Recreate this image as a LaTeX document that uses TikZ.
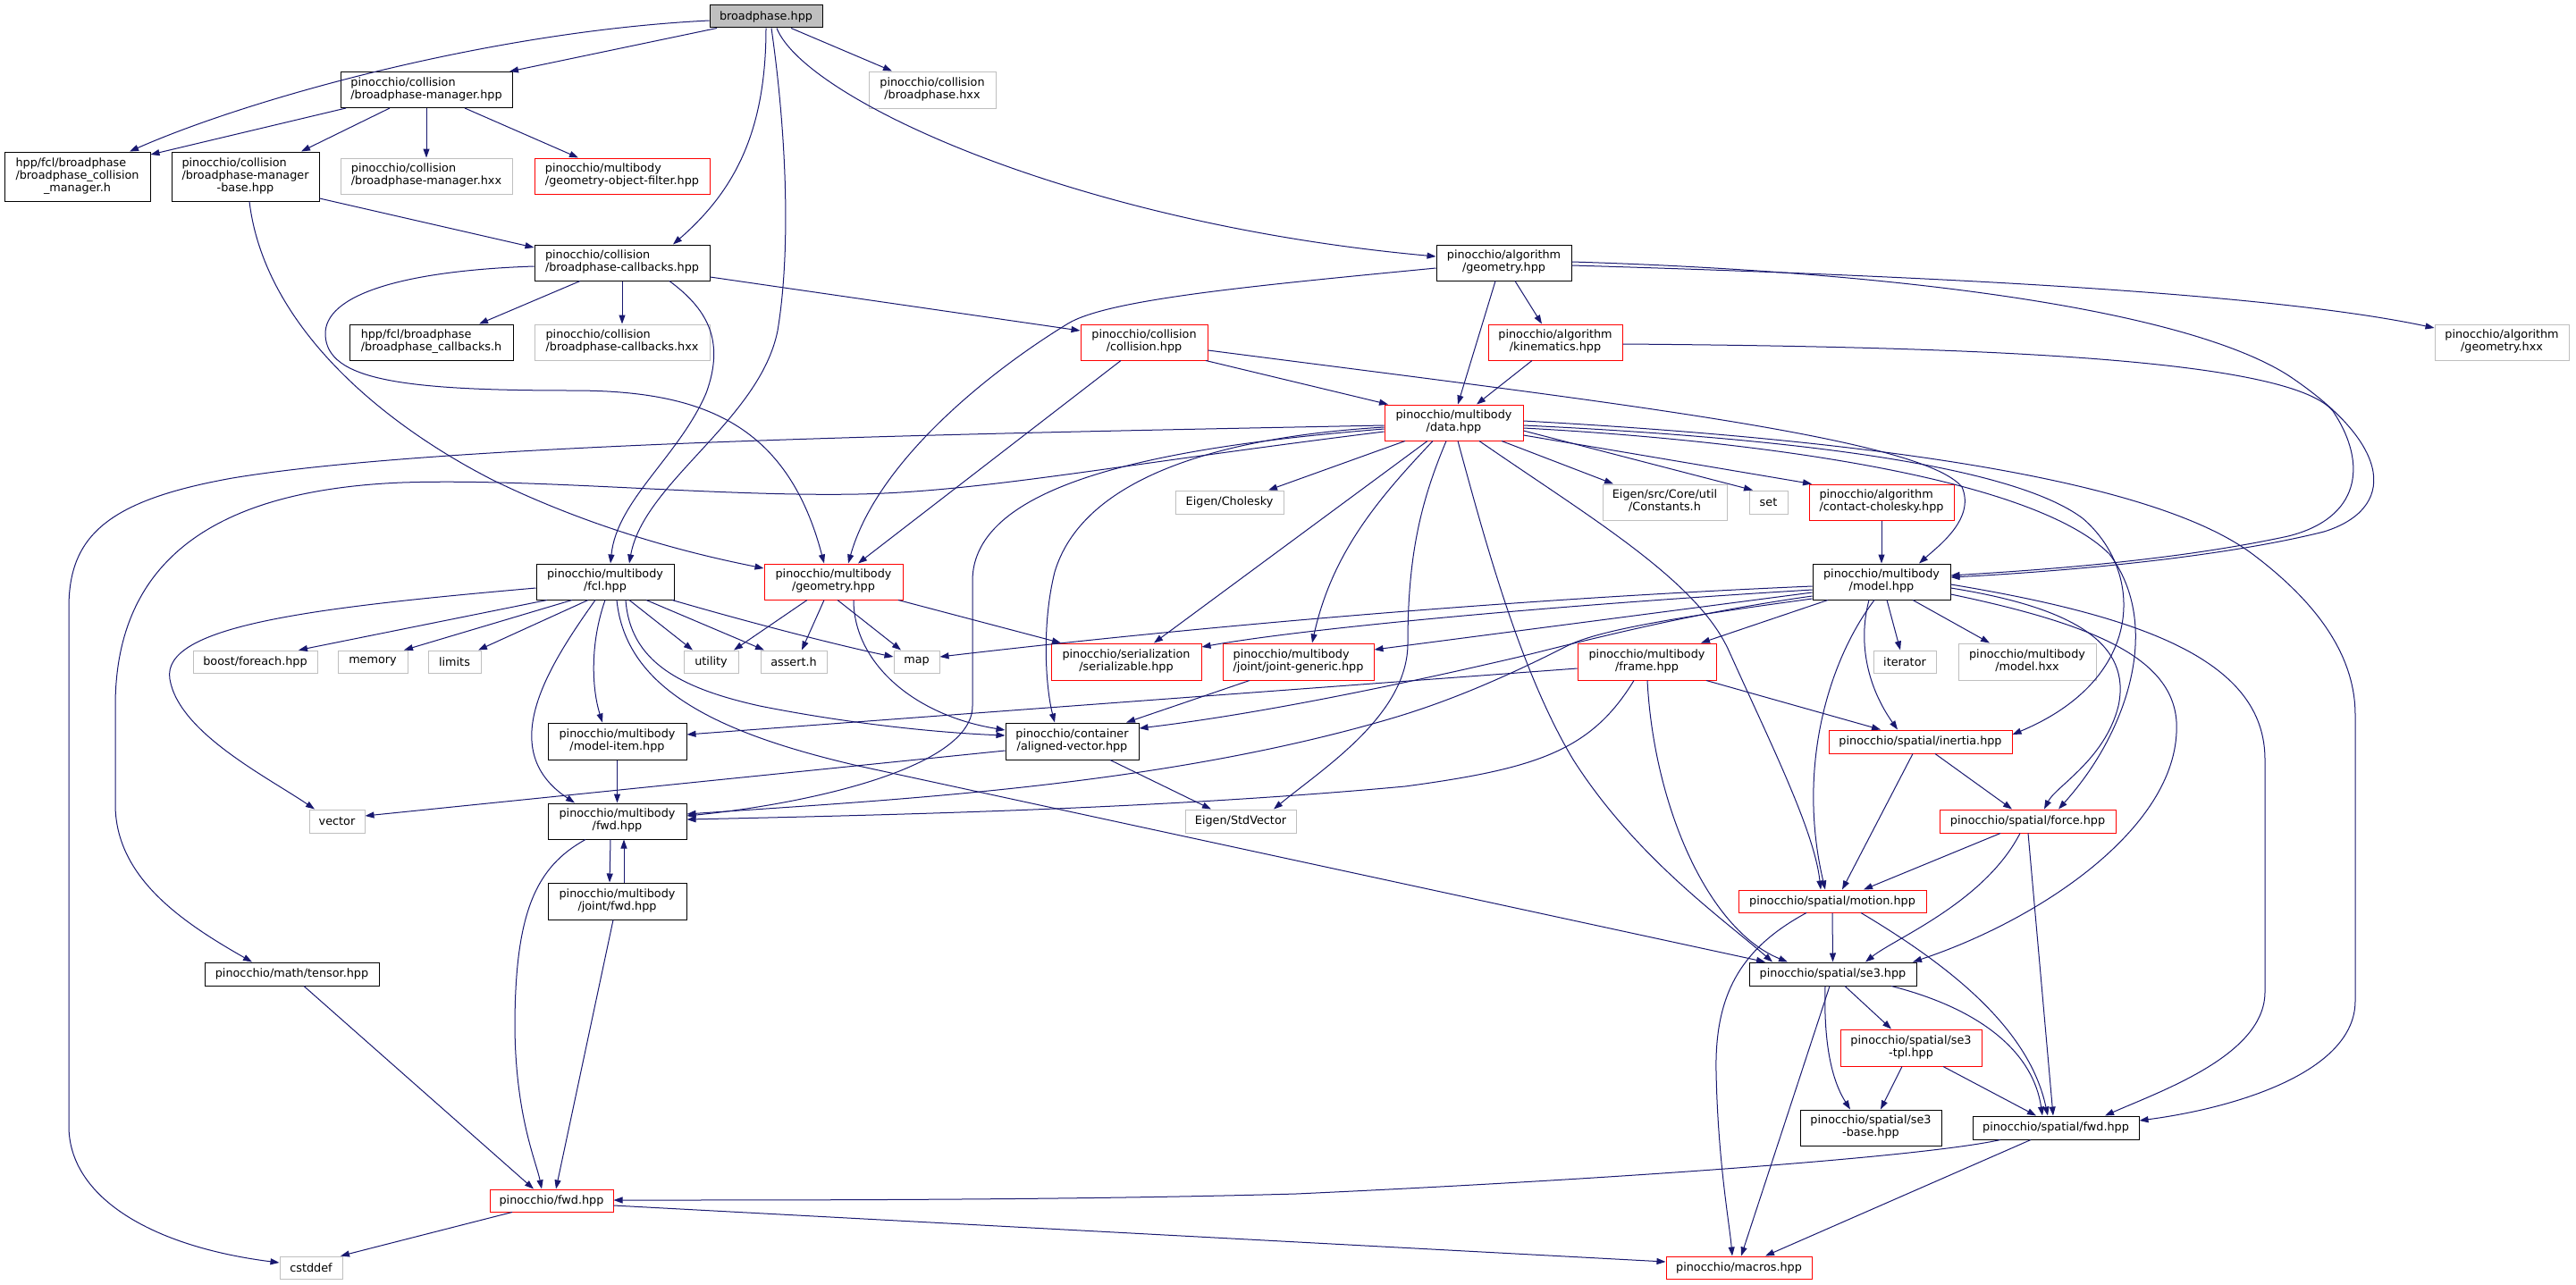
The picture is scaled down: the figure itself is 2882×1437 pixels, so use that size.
\documentclass[tikz,border=0pt]{standalone}
\usepackage{fontspec}
\setmainfont{DejaVu Sans}
\usetikzlibrary{arrows.meta}
\definecolor{edgec}{HTML}{191970}
\definecolor{grayc}{HTML}{BFBFBF}
\newcommand\nfont{\fontsize{12.8}{14}\selectfont}
\newcommand\lbb[2]{\begin{tabular}{@{}l@{}}#1\\\multicolumn{1}{@{}c@{}}{#2}\end{tabular}}
\newcommand\lbc[3]{\begin{tabular}{@{}l@{}}#1\\#2\\\multicolumn{1}{@{}c@{}}{#3}\end{tabular}}
\tikzset{
 nb/.style={draw=black, line width=1pt, inner sep=0pt, font=\nfont, text=black, fill=white},
 bk/.style={nb},
 gr/.style={nb, draw=grayc},
 rd/.style={nb, draw=red},
 rt/.style={nb, fill=grayc},
 sz/.style 2 args={minimum width=#1, minimum height=#2},
 cn/.style={draw=edgec, line width=1pt, -{Triangle[length=10pt,width=7pt]}},
}
\begin{document}
\begin{tikzpicture}[x=1pt,y=-1pt]
\fill[white] (0,0) rectangle (2882,1437);
\useasboundingbox (0,0) rectangle (2882,1437);
% nodes
\node[rt, sz={126pt}{25pt}] (root) at (857,18.5) {broadphase.hpp};
\node[bk, sz={192pt}{40pt}] (bpm) at (477,100.5) {\lbb{pinocchio/collision}{/broadphase-manager.hpp}};
\node[bk, sz={163pt}{55pt}] (bcm) at (86.5,197.5) {\lbc{hpp/fcl/broadphase}{/broadphase\_collision}{\_manager.h}};
\node[bk, sz={165pt}{55pt}] (bpmb) at (274.5,197.5) {\lbc{pinocchio/collision}{/broadphase-manager}{-base.hpp}};
\node[gr, sz={192pt}{40pt}] (bpmhxx) at (477,197) {\lbb{pinocchio/collision}{/broadphase-manager.hxx}};
\node[rd, sz={196pt}{40pt}] (gof) at (696,197) {\lbb{pinocchio/multibody}{/geometry-object-filter.hpp}};
\node[bk, sz={196pt}{40pt}] (bpcb) at (696,294) {\lbb{pinocchio/collision}{/broadphase-callbacks.hpp}};
\node[gr, sz={142pt}{41pt}] (bphxx) at (1043,100.5) {\lbb{pinocchio/collision}{/broadphase.hxx}};
\node[bk, sz={151pt}{40pt}] (ageo) at (1682.5,294) {\lbb{pinocchio/algorithm}{/geometry.hpp}};
\node[gr, sz={150pt}{40pt}] (ageohxx) at (2799,383) {\lbb{pinocchio/algorithm}{/geometry.hxx}};
\node[bk, sz={183pt}{40pt}] (bcbh) at (482.5,383) {\lbb{hpp/fcl/broadphase}{/broadphase\_callbacks.h}};
\node[gr, sz={196pt}{40pt}] (bpcbhxx) at (696,383) {\lbb{pinocchio/collision}{/broadphase-callbacks.hxx}};
\node[rd, sz={142pt}{40pt}] (coll) at (1280,383) {\lbb{pinocchio/collision}{/collision.hpp}};
\node[rd, sz={150pt}{40pt}] (kin) at (1740,383) {\lbb{pinocchio/algorithm}{/kinematics.hpp}};
\node[rd, sz={155pt}{40pt}] (data) at (1626.5,473) {\lbb{pinocchio/multibody}{/data.hpp}};
\node[gr, sz={121pt}{26pt}] (chol) at (1375.5,562) {Eigen/Cholesky};
\node[gr, sz={139pt}{40pt}] (const) at (1862.5,562) {\lbb{Eigen/src/Core/util}{/Constants.h}};
\node[gr, sz={43pt}{26pt}] (set) at (1978.5,562) {set};
\node[rd, sz={162pt}{40pt}] (cchol) at (2105,562) {\lbb{pinocchio/algorithm}{/contact-cholesky.hpp}};
\node[bk, sz={154pt}{40pt}] (model) at (2105,651) {\lbb{pinocchio/multibody}{/model.hpp}};
\node[bk, sz={154pt}{40pt}] (fcl) at (677,651) {\lbb{pinocchio/multibody}{/fcl.hpp}};
\node[rd, sz={155pt}{40pt}] (mgeo) at (932.5,651) {\lbb{pinocchio/multibody}{/geometry.hpp}};
\node[gr, sz={139pt}{25pt}] (boost) at (285.5,740.5) {boost/foreach.hpp};
\node[gr, sz={78pt}{25pt}] (memory) at (417,740.5) {memory};
\node[gr, sz={59pt}{25pt}] (limits) at (508.5,740.5) {limits};
\node[gr, sz={61pt}{25pt}] (utility) at (795.5,740.5) {utility};
\node[gr, sz={74pt}{25pt}] (assert) at (888,740.5) {assert.h};
\node[gr, sz={51pt}{25pt}] (map) at (1025.5,740.5) {map};
\node[rd, sz={168pt}{41pt}] (serial) at (1260,740.5) {\lbb{pinocchio/serialization}{/serializable.hpp}};
\node[rd, sz={169pt}{41pt}] (jg) at (1452.5,740.5) {\lbb{pinocchio/multibody}{/joint/joint-generic.hpp}};
\node[rd, sz={155pt}{41pt}] (frame) at (1842.5,740.5) {\lbb{pinocchio/multibody}{/frame.hpp}};
\node[gr, sz={70pt}{25pt}] (iter) at (2131,740.5) {iterator};
\node[gr, sz={154pt}{41pt}] (mhxx) at (2268,740.5) {\lbb{pinocchio/multibody}{/model.hxx}};
\node[bk, sz={155pt}{41pt}] (mitem) at (690.5,829.5) {\lbb{pinocchio/multibody}{/model-item.hpp}};
\node[bk, sz={149pt}{41pt}] (av) at (1199.5,829.5) {\lbb{pinocchio/container}{/aligned-vector.hpp}};
\node[rd, sz={205pt}{26pt}] (inertia) at (2148.5,830) {pinocchio/spatial/inertia.hpp};
\node[gr, sz={62pt}{26pt}] (vector) at (377,919) {vector};
\node[bk, sz={155pt}{40pt}] (mbfwd) at (690.5,919) {\lbb{pinocchio/multibody}{/fwd.hpp}};
\node[gr, sz={124pt}{26pt}] (stdvec) at (1388,919) {Eigen/StdVector};
\node[rd, sz={197pt}{26pt}] (force) at (2268.5,919) {pinocchio/spatial/force.hpp};
\node[bk, sz={155pt}{41pt}] (jfwd) at (690.5,1008.5) {\lbb{pinocchio/multibody}{/joint/fwd.hpp}};
\node[rd, sz={210pt}{25pt}] (motion) at (2050,1008.5) {pinocchio/spatial/motion.hpp};
\node[bk, sz={195pt}{26pt}] (tensor) at (326.5,1090) {pinocchio/math/tensor.hpp};
\node[bk, sz={187pt}{26pt}] (se3) at (2050.5,1090) {pinocchio/spatial/se3.hpp};
\node[rd, sz={158pt}{41pt}] (se3tpl) at (2138,1172.5) {\lbb{pinocchio/spatial/se3}{-tpl.hpp}};
\node[bk, sz={158pt}{40pt}] (se3base) at (2093,1262) {\lbb{pinocchio/spatial/se3}{-base.hpp}};
\node[bk, sz={186pt}{26pt}] (sfwd) at (2300,1262) {pinocchio/spatial/fwd.hpp};
\node[rd, sz={138pt}{25pt}] (pfwd) at (617,1343.5) {pinocchio/fwd.hpp};
\node[rd, sz={163pt}{25pt}] (macros) at (1945.5,1418.5) {pinocchio/macros.hpp};
\node[gr, sz={70pt}{25pt}] (cstddef) at (348,1418.5) {cstddef};
% root
\draw[cn] (root.west |- 0,23) .. controls (550,35) and (280,110) .. (bcm.north -| 145,0);
\draw[cn] (root.south -| 802,0) -- (bpm.north -| 570,0);
\draw[cn] (root.south -| 857,0) .. controls (857,150) and (820,215) .. (bpcb.north -| 753,0);
\draw[cn] (root.south -| 863,0) .. controls (880,150) and (885,280) .. (870,370) .. controls (850,470) and (720,540) .. (fcl.north -| 704,0);
\draw[cn] (root.south -| 885,0) -- (bphxx.north -| 998,0);
\draw[cn] (root.south -| 869,0) .. controls (900,110) and (1200,250) .. (ageo.west |- 0,287);
% broadphase-manager
\draw[cn] (bpm.south -| 387,0) -- (bcm.east |- 0,173);
\draw[cn] (bpm.south -| 436,0) -- (bpmb.north -| 337,0);
\draw[cn] (bpm.south) -- (bpmhxx.north);
\draw[cn] (bpm.south -| 520,0) -- (gof.north -| 647,0);
% base
\draw[cn] (bpmb.east |- 0,222) -- (bpcb.west |- 0,277);
\draw[cn] (bpmb.south -| 279,0) .. controls (295,360) and (420,470) .. (551,537) .. controls (680,600) and (800,625) .. (mgeo.west |- 0,636);
% callbacks
\draw[cn] (bpcb.south -| 649,0) -- (bcbh.north -| 536,0);
\draw[cn] (bpcb.south) -- (bpcbhxx.north);
\draw[cn] (bpcb.east |- 0,310) -- (coll.west |- 0,370);
\draw[cn] (bpcb.west |- 0,298) .. controls (450,303) and (362,330) .. (364,375) .. controls (366,425) and (450,437) .. (640,437) .. controls (780,437) and (880,470) .. (mgeo.north -| 922,0);
\draw[cn] (bpcb.south -| 749,0) .. controls (790,345) and (812,380) .. (790,440) .. controls (760,510) and (690,560) .. (fcl.north -| 683,0);
% algorithm geometry
\draw[cn] (ageo.west |- 0,300) .. controls (1400,320) and (1240,335) .. (1195,362) .. controls (1100,420) and (980,520) .. (mgeo.north -| 949,0);
\draw[cn] (ageo.south -| 1673,0) -- (data.north -| 1631,0);
\draw[cn] (ageo.south -| 1695,0) -- (kin.north -| 1725,0);
\draw[cn] (ageo.east |- 0,293) .. controls (2150,305) and (2450,350) .. (2560,420) .. controls (2680,500) and (2680,570) .. (2600,595) .. controls (2480,625) and (2300,640) .. (model.east |- 0,646);
\draw[cn] (ageo.east |- 0,297) .. controls (2200,310) and (2550,330) .. (ageohxx.west |- 0,367);
% kinematics
\draw[cn] (kin.south -| 1714,0) -- (data.north -| 1652,0);
\draw[cn] (kin.east |- 0,385) .. controls (2200,388) and (2560,400) .. (2610,460) .. controls (2650,520) and (2640,580) .. (2560,600) .. controls (2430,628) and (2280,638) .. (model.east |- 0,644);
% collision
\draw[cn] (coll.south -| 1349,0) -- (data.north -| 1553,0);
\draw[cn] (coll.south -| 1254,0) -- (mgeo.north -| 960,0);
\draw[cn] (coll.east |- 0,392) .. controls (1800,450) and (2150,490) .. (2195,545) .. controls (2210,580) and (2170,610) .. (model.north -| 2147,0);
% data
\draw[cn] (data.west |- 0,476) .. controls (1100,485) and (500,495) .. (260,535) .. controls (120,560) and (77,600) .. (77,680) -- (77,1260) .. controls (77,1340) and (170,1395) .. (cstddef.west |- 0,1413);
\draw[cn] (data.west |- 0,483) .. controls (1250,520) and (1100,550) .. (960,553) .. controls (800,556) and (600,535) .. (450,540) .. controls (250,548) and (129,620) .. (129,790) -- (129,900) .. controls (129,980) and (200,1030) .. (tensor.north -| 282,0);
\draw[cn] (data.south -| 1572,0) -- (chol.north -| 1419,0);
\draw[cn] (data.south -| 1680,0) -- (const.north -| 1805,0);
\draw[cn] (data.east |- 0,482) -- (set.north -| 1961,0);
\draw[cn] (data.east |- 0,487) -- (cchol.north -| 2027,0);
\draw[cn] (data.south -| 1597,0) -- (serial.north -| 1291,0);
\draw[cn] (data.south -| 1603,0) .. controls (1540,560) and (1490,620) .. (jg.north -| 1468,0);
\draw[cn] (data.west |- 0,478) .. controls (1350,490) and (1210,540) .. (1180,640) .. controls (1165,700) and (1170,770) .. (av.north -| 1180,0);
\draw[cn] (data.west |- 0,480) .. controls (1300,500) and (1088,540) .. (1088,650) -- (1088,790) .. controls (1088,860) and (900,900) .. (mbfwd.east |- 0,913);
\draw[cn] (data.south -| 1618,0) .. controls (1590,560) and (1575,620) .. (1575,720) .. controls (1575,800) and (1480,860) .. (stdvec.north -| 1425,0);
\draw[cn] (data.south -| 1631,0) .. controls (1660,600) and (1700,750) .. (1760,850) .. controls (1830,960) and (1930,1030) .. (se3.north -| 1983,0);
\draw[cn] (data.south -| 1655,0) .. controls (1780,580) and (1900,650) .. (1935,730) .. controls (1980,830) and (2030,930) .. (motion.north -| 2037,0);
\draw[cn] (data.east |- 0,476) .. controls (2000,490) and (2250,520) .. (2330,580) .. controls (2400,640) and (2400,760) .. (inertia.east |- 0,822);
\draw[cn] (data.east |- 0,479) .. controls (2000,495) and (2280,540) .. (2360,620) .. controls (2420,700) and (2380,820) .. (force.north -| 2303,0);
\draw[cn] (data.east |- 0,471) .. controls (2050,490) and (2400,530) .. (2520,620) .. controls (2600,680) and (2635,740) .. (2635,800) -- (2635,1120) .. controls (2635,1200) and (2500,1240) .. (sfwd.east |- 0,1254);
% model
\draw[cn] (model.west |- 0,656) .. controls (1700,670) and (1350,700) .. (map.east |- 0,735);
\draw[cn] (model.west |- 0,660) .. controls (1700,680) and (1450,705) .. (serial.east |- 0,724);
\draw[cn] (model.west |- 0,663) -- (jg.east |- 0,727);
\draw[cn] (model.west |- 0,667) .. controls (1900,685) and (1800,710) .. (1700,735) .. controls (1550,770) and (1400,800) .. (av.east |- 0,815);
\draw[cn] (model.west |- 0,670) .. controls (1880,690) and (1790,705) .. (1755,722) .. controls (1680,760) and (1620,785) .. (1560,803) .. controls (1300,880) and (1000,895) .. (mbfwd.east |- 0,911);
\draw[cn] (model.south -| 2045,0) -- (frame.north -| 1903,0);
\draw[cn] (model.south -| 2111,0) -- (iter.north -| 2126,0);
\draw[cn] (model.south -| 2140,0) -- (mhxx.north -| 2226,0);
\draw[cn] (model.south -| 2091,0) .. controls (2078,720) and (2090,770) .. (inertia.north -| 2123,0);
\draw[cn] (model.south -| 2097,0) .. controls (2045,740) and (2010,860) .. (motion.north -| 2042,0);
\draw[cn] (model.east |- 0,658) .. controls (2320,680) and (2385,720) .. (2370,790) .. controls (2355,850) and (2300,880) .. (force.north -| 2287,0);
\draw[cn] (model.east |- 0,665) .. controls (2350,700) and (2440,740) .. (2435,820) .. controls (2430,930) and (2280,1030) .. (se3.north -| 2140,0);
\draw[cn] (model.east |- 0,654) .. controls (2400,690) and (2534,740) .. (2534,850) -- (2534,1110) .. controls (2534,1180) and (2420,1220) .. (sfwd.north -| 2355,0);
\draw[cn] (cchol.south) -- (model.north);
% spatial
\draw[cn] (inertia.south -| 2140,0) -- (motion.north -| 2061,0);
\draw[cn] (inertia.south -| 2165,0) -- (force.north -| 2251,0);
\draw[cn] (force.south -| 2238,0) -- (motion.north -| 2085,0);
\draw[cn] (force.south -| 2260,0) .. controls (2220,1010) and (2120,1050) .. (se3.north -| 2087,0);
\draw[cn] (force.south -| 2269,0) -- (sfwd.north -| 2297,0);
\draw[cn] (motion.south) -- (se3.north);
\draw[cn] (motion.south -| 2082,0) .. controls (2180,1080) and (2270,1150) .. (sfwd.north -| 2291,0);
\draw[cn] (motion.south -| 2021,0) .. controls (1950,1060) and (1918,1110) .. (1920,1200) .. controls (1922,1300) and (1935,1370) .. (macros.north -| 1938,0);
\draw[cn] (se3.south -| 2064,0) -- (se3tpl.north -| 2116,0);
\draw[cn] (se3.south -| 2042,0) .. controls (2040,1170) and (2050,1210) .. (se3base.north -| 2070,0);
\draw[cn] (se3.south -| 2116,0) .. controls (2220,1130) and (2275,1180) .. (sfwd.north -| 2285,0);
\draw[cn] (se3.south -| 2047,0) -- (macros.north -| 1948,0);
\draw[cn] (se3tpl.south -| 2128,0) -- (se3base.north -| 2104,0);
\draw[cn] (se3tpl.south -| 2174,0) -- (sfwd.north -| 2278,0);
\draw[cn] (sfwd.south -| 2238,0) .. controls (2150,1295) and (1800,1320) .. (1450,1336) .. controls (1200,1343) and (900,1343) .. (pfwd.east |- 0,1343);
\draw[cn] (sfwd.south -| 2272,0) -- (macros.north -| 1975,0);
% pinocchio fwd
\draw[cn] (pfwd.south -| 573,0) -- (cstddef.north -| 381,0);
\draw[cn] (pfwd.east |- 0,1349) -- (macros.west |- 0,1412);
% multibody fwd
\draw[cn] (mbfwd.south -| 683,0) -- (jfwd.north -| 682,0);
\draw[cn] (jfwd.north -| 698,0) -- (mbfwd.south -| 698,0);
\draw[cn] (mbfwd.south -| 655,0) .. controls (600,970) and (576,1020) .. (576,1150) .. controls (577,1250) and (600,1300) .. (pfwd.north -| 606,0);
\draw[cn] (jfwd.south -| 686,0) -- (pfwd.north -| 622,0);
\draw[cn] (tensor.south -| 340,0) -- (pfwd.north -| 597,0);
\draw[cn] (mitem.south) -- (mbfwd.north);
% frame
\draw[cn] (frame.west |- 0,748) -- (mitem.east |- 0,822);
\draw[cn] (frame.south -| 1828,0) .. controls (1780,840) and (1720,860) .. (1572,880) .. controls (1300,905) and (1000,912) .. (mbfwd.east |- 0,917);
\draw[cn] (frame.south -| 1909,0) -- (inertia.north -| 2104,0);
\draw[cn] (frame.south -| 1843,0) .. controls (1850,900) and (1910,1040) .. (se3.north -| 2000,0);
% aligned vector, joint generic
\draw[cn] (av.west |- 0,840) -- (vector.east |- 0,913);
\draw[cn] (av.south -| 1242,0) -- (stdvec.north -| 1355,0);
\draw[cn] (jg.south -| 1398,0) -- (av.north -| 1260,0);
% multibody geometry
\draw[cn] (mgeo.south -| 903,0) -- (utility.north -| 821,0);
\draw[cn] (mgeo.south -| 922,0) -- (assert.north -| 897,0);
\draw[cn] (mgeo.south -| 937,0) -- (map.north -| 1008,0);
\draw[cn] (mgeo.south -| 1005,0) -- (serial.north -| 1187,0);
\draw[cn] (mgeo.south -| 955,0) .. controls (955,740) and (1020,800) .. (av.west |- 0,817);
% fcl
\draw[cn] (fcl.west |- 0,658) .. controls (350,680) and (180,700) .. (190,760) .. controls (200,820) and (300,870) .. (vector.north -| 352,0);
\draw[cn] (fcl.south -| 612,0) -- (boost.north -| 334,0);
\draw[cn] (fcl.south -| 640,0) -- (memory.north -| 452,0);
\draw[cn] (fcl.south -| 658,0) -- (limits.north -| 535,0);
\draw[cn] (fcl.south -| 666,0) .. controls (610,750) and (555,840) .. (mbfwd.north -| 643,0);
\draw[cn] (fcl.south -| 677,0) .. controls (660,720) and (662,770) .. (mitem.north -| 674,0);
\draw[cn] (fcl.south -| 700,0) .. controls (705,740) and (760,770) .. (850,790) .. controls (950,810) and (1050,820) .. (av.west |- 0,823);
\draw[cn] (fcl.south -| 690,0) .. controls (700,770) and (800,820) .. (960,857) -- (se3.north -| 1975,0);
\draw[cn] (fcl.south -| 704,0) -- (utility.north -| 775,0);
\draw[cn] (fcl.south -| 723,0) -- (assert.north -| 855,0);
\draw[cn] (fcl.south -| 752,0) .. controls (850,700) and (950,725) .. (map.west |- 0,735);
\end{tikzpicture}
\end{document}
